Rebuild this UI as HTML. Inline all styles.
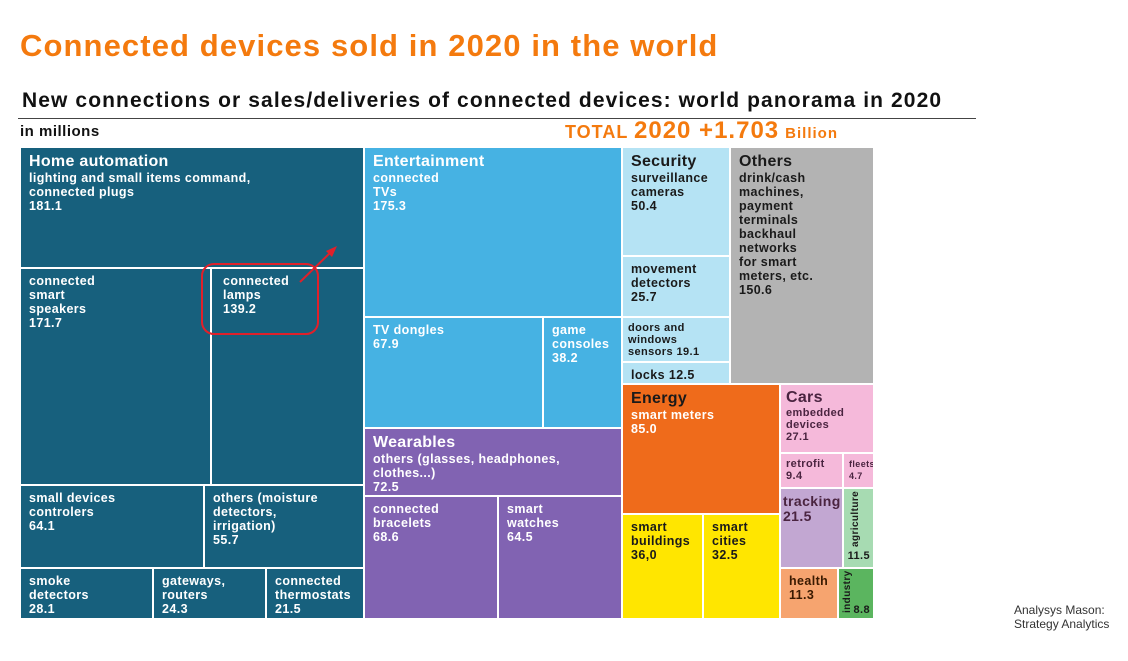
<!DOCTYPE html>
<html><head><meta charset="utf-8"><style>
body{margin:0;width:1128px;height:661px;background:#fff;position:relative;overflow:hidden;font-family:"Liberation Sans",Arial,sans-serif}
.a{position:absolute}
.c{position:absolute;box-sizing:border-box;border:1px solid #fff;color:#fff;font-weight:bold;font-size:12.5px;line-height:14px;padding:5px 8px;overflow:hidden;letter-spacing:0.4px}
.c b{font-size:16px;line-height:18px;display:block;letter-spacing:0.3px}
.v{position:absolute;transform:rotate(-90deg);transform-origin:left top;white-space:nowrap;line-height:12px}
</style></head><body>
<div class="a" style="left:20px;top:28px;font-size:31px;letter-spacing:1.1px;font-weight:bold;color:#f47a0e">Connected devices sold in 2020 in the world</div>
<div class="a" style="left:22px;top:89px;font-size:21px;letter-spacing:1.1px;font-weight:bold;color:#111;white-space:nowrap">New connections or sales/deliveries of connected devices: world panorama in 2020</div>
<div class="a" style="left:18px;top:118px;width:958px;height:1px;background:#444"></div>
<div class="a" style="left:20px;top:123px;font-size:15px;letter-spacing:0.5px;font-weight:bold;color:#111">in millions</div>
<div class="a" style="left:565px;top:117px;font-weight:bold;color:#f47a0e;font-size:18px;letter-spacing:1px;white-space:nowrap">TOTAL <span style="font-size:24px">2020 +1.703</span> <span style="font-size:15px">Billion</span></div>
<div id="tm"></div>
<svg class="a" style="left:0;top:0" width="1128" height="661">
<rect x="202" y="264" width="116" height="70" rx="12" fill="none" stroke="#e0202a" stroke-width="2"/>
<line x1="300" y1="282" x2="332" y2="251" stroke="#e0202a" stroke-width="2"/>
<polygon points="337,246 326,251 332,257" fill="#e0202a"/>
</svg>
<div class="a" style="left:1014px;top:603px;font-size:12px;line-height:14px;color:#333">Analysys Mason:<br>Strategy Analytics</div>
<script>
const names=["Home automation|lighting and small items command,<br>connected plugs","connected<br>smart<br>speakers","connected<br>lamps","small devices<br>controlers","others (moisture<br>detectors,<br>irrigation)","smoke<br>detectors","gateways,<br>routers","connected<br>thermostats","Entertainment|connected<br>TVs","TV dongles","game<br>consoles","Wearables|others (glasses, headphones,<br>clothes...)","connected<br>bracelets","smart<br>watches","Security|surveillance<br>cameras","movement<br>detectors","doors and<br>windows<br>sensors","locks","Others|drink/cash<br>machines,<br>payment<br>terminals<br>backhaul<br>networks<br>for smart<br>meters, etc.","Energy|smart meters","smart<br>buildings","smart<br>cities","Cars|embedded<br>devices","retrofit","fleets","tracking","agriculture","health","industry"];
const values=["181.1","171.7","139.2","64.1","55.7","28.1","24.3","21.5","175.3","67.9","38.2","72.5","68.6","64.5","50.4","25.7","19.1","12.5","150.6","85.0","36,0","32.5","27.1","9.4","4.7","21.5","11.5","11.3","8.8"];
const cols=["#17607d","#17607d","#17607d","#17607d","#17607d","#17607d","#17607d","#17607d","#46b2e3","#46b2e3","#46b2e3","#8163b2","#8163b2","#8163b2","#b5e3f4","#b5e3f4","#b5e3f4","#b5e3f4","#b3b3b3","#ef6b1b","#ffe600","#ffe600","#f5b9da","#f5b9da","#f5b9da","#c2a7d2","#a7dbb2","#f6a46f","#5bb55f"];
const geo=[[20,147,364,268],[20,268,211,485],[211,268,364,485],[20,485,204,568],[204,485,364,568],[20,568,153,619],[153,568,266,619],[266,568,364,619],[364,147,622,317],[364,317,543,428],[543,317,622,428],[364,428,622,496],[364,496,498,619],[498,496,622,619],[622,147,730,256],[622,256,730,317],[622,317,730,362],[622,362,730,384],[730,147,874,384],[622,384,780,514],[622,514,703,619],[703,514,780,619],[780,384,874,453],[780,453,843,488],[843,453,874,488],[780,488,843,568],[843,488,874,568],[780,568,838,619],[838,568,874,619]];
const small={16:'11px',22:'11px',23:'11px',24:'9px',28:'11px'};
const tm=document.getElementById('tm');
names.forEach((n,i)=>{
 const d=document.createElement('div');
 
 
 d.className='c';
 const g=geo[i];
 d.style.left=g[0]+'px';d.style.top=g[1]+'px';d.style.width=(g[2]-g[0])+'px';d.style.height=(g[3]-g[1])+'px';
 d.style.background=cols[i];
 const dark=["#b5e3f4","#b3b3b3","#ffe600","#a7dbb2","#5bb55f"].includes(cols[i]);
 if(dark) d.style.color='#1a1a1a';
 if(cols[i]=="#f5b9da"||cols[i]=="#c2a7d2") d.style.color='#4a2440';
 if(cols[i]=="#f6a46f") d.style.color='#3a1a00';
 if(small[i]){d.style.fontSize=small[i];d.style.lineHeight='12px';d.style.padding='4px 5px';}
 if(i==2) d.style.paddingLeft='11px';
 const p=n.split('|');
 if(i==26||i==28){
   d.style.padding='0';
   const top=i==26?58:44, left=i==26?6:3;
   d.innerHTML='<span class="v" style="left:'+left+'px;top:'+top+'px;font-size:10px">'+p[0]+'</span><span style="position:absolute;right:3px;bottom:'+(i==26?4:2)+'px;font-size:11px">'+values[i]+'</span>';
 } else {
   d.innerHTML=(p.length>1?'<b'+(i==19?' style="color:#1a1a1a"':'')+'>'+p[0]+'</b>'+p[1]:p[0])+((i==16||i==17)?' ':'<br>')+values[i];
 }
 if(i==25){d.style.fontSize='14px';d.style.lineHeight='15px';d.style.padding='5px 2px';}
 tm.appendChild(d);
});
</script>
</body></html>
